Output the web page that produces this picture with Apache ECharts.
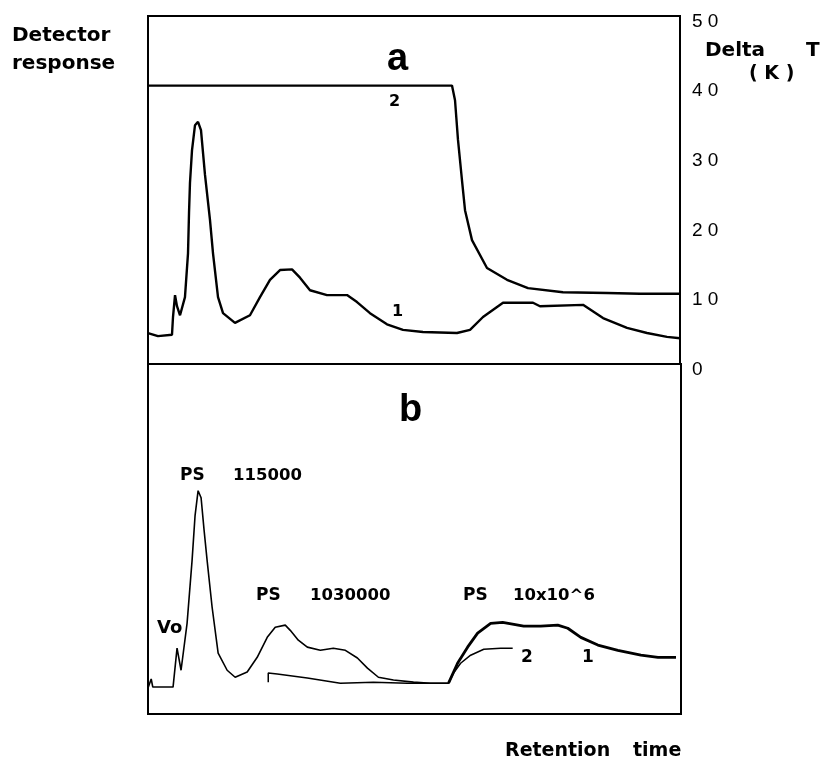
<!DOCTYPE html>
<html>
<head>
<meta charset="utf-8">
<style>
  html, body { margin: 0; padding: 0; background: #fff; }
  #chart { width: 822px; height: 759px; }
</style>
<script src="https://cdn.jsdelivr.net/npm/echarts@6/dist/echarts.min.js"></script>
</head>
<body>
<div id="chart"></div>
<script>
// ---------- DATA ----------
// Retention time in arbitrary units (0..100 across the plot)
// Panel a, curve 1: detector response (drawn on the same 0..50 scale)
const timeA1 = [0, 1.88, 4.51, 4.70, 5.08, 5.45, 6.02, 6.95, 7.52, 7.71, 7.89, 8.27, 8.83, 9.40, 9.96, 10.71, 11.65, 12.22, 13.16, 14.10, 16.35, 19.17, 21.05, 22.93, 24.81, 27.07, 28.57, 30.45, 33.65, 37.41, 39.29, 41.73, 44.92, 47.93, 51.69, 58.08, 60.53, 62.97, 66.73, 72.37, 73.68, 81.77, 85.53, 90.04, 93.80, 97.56, 100];
const respA1 = [4.45, 4.0, 4.2, 6.75, 9.9, 8.3, 7.0, 9.6, 15.9, 21.7, 26.0, 30.7, 34.3, 34.8, 33.6, 27.2, 20.7, 15.9, 9.6, 7.3, 5.9, 7.0, 9.6, 12.1, 13.5, 13.6, 12.4, 10.6, 9.9, 9.9, 8.9, 7.3, 5.7, 4.9, 4.6, 4.45, 4.9, 6.75, 8.8, 8.8, 8.3, 8.5, 6.6, 5.2, 4.45, 3.9, 3.7];

// Panel a, curve 2: Delta T (K)
const timeA2 = [0, 57.14, 57.71, 58.27, 59.02, 59.59, 60.90, 63.72, 67.48, 71.43, 78.0, 86.28, 92.48, 100];
const deltaT = [40, 40, 37.9, 32.2, 26.4, 22.1, 17.8, 13.8, 12.1, 10.9, 10.3, 10.2, 10.1, 10.1];

// Panel b, curve 1: detector response (relative units 0..100)
const timeB1 = [0, 0.6, 0.9, 4.70, 5.45, 6.20, 7.33, 8.27, 8.83, 9.40, 9.96, 10.53, 11.09, 12.03, 13.16, 14.85, 16.35, 18.61, 20.49, 22.37, 23.87, 25.75, 26.69, 28.20, 29.89, 32.33, 34.77, 37.03, 39.29, 41.17, 43.23, 46.05, 49.81, 53.01, 56.39, 58.08, 59.96, 61.84, 64.29, 66.54, 70.49, 73.68, 76.88, 78.76, 81.20, 84.40, 88.16, 92.48, 95.68, 99.06];
const respB1 = [7.4, 10.0, 7.7, 7.7, 18.8, 12.5, 25.9, 43.9, 56.7, 63.8, 61.8, 52.4, 43.9, 30.5, 17.4, 12.5, 10.5, 12.0, 16.2, 21.9, 24.8, 25.4, 23.9, 21.1, 19.1, 18.2, 18.8, 18.2, 16.0, 13.1, 10.5, 9.7, 9.1, 8.8, 8.8, 14.5, 19.1, 23.1, 25.9, 26.2, 25.1, 25.1, 25.4, 24.5, 21.9, 19.7, 18.2, 16.8, 16.2, 16.2];

// Panel b, curve 2
const timeB2 = [22.56, 22.56, 24.25, 29.89, 36.09, 42.29, 48.68, 56.39, 57.33, 58.65, 60.53, 63.0, 66.17, 68.42];
const respB2 = [9.1, 11.7, 11.4, 10.3, 8.8, 9.1, 8.8, 8.8, 11.7, 14.5, 16.8, 18.5, 18.8, 18.8];

// Right-axis tick labels (Delta T, K)
const deltaTTicks = ['0', '1 0', '2 0', '3 0', '4 0', '5 0'];

// ---------- CHART ----------
const zip = (xs, ys) => xs.map((x, i) => [x, ys[i]]);
const b1 = zip(timeB1, respB1);
const splitT = 56.39;

const chart = echarts.init(document.getElementById('chart'), null, { renderer: 'canvas' });
const fam = '"DejaVu Sans", "Liberation Sans", sans-serif';
const txt = (x, y, text, size, fontFamily) => ({
  type: 'text', x: x, y: y, z: 100,
  style: { text: text, fontSize: size, fontWeight: 'bold', fontFamily: fontFamily || fam, fill: '#000', align: 'left', verticalAlign: 'middle' }
});

chart.setOption({
  animation: false,
  backgroundColor: '#fff',
  grid: [
    { left: 148, top: 16, width: 532, height: 348, show: true, borderColor: '#000', borderWidth: 2, backgroundColor: 'transparent' },
    { left: 148, top: 364, width: 533, height: 350, show: true, borderColor: '#000', borderWidth: 2, backgroundColor: 'transparent' }
  ],
  xAxis: [
    { gridIndex: 0, type: 'value', min: 0, max: 100, show: false },
    { gridIndex: 1, type: 'value', min: 0, max: 100, show: false }
  ],
  yAxis: [
    { gridIndex: 0, type: 'value', position: 'right', min: 0, max: 50, interval: 10,
      axisLine: { show: true, lineStyle: { color: '#000', width: 2 } },
      axisTick: { show: false }, splitLine: { show: false },
      axisLabel: { margin: 12, color: '#000', fontSize: 19, fontFamily: '"Liberation Sans", Arial, sans-serif',
        verticalAlign: 'top', padding: [-4, 0, 0, 0],
        formatter: (v) => deltaTTicks[Math.round(v / 10)] } },
    { gridIndex: 1, type: 'value', min: 0, max: 100, show: false }
  ],
  series: [
    { type: 'line', xAxisIndex: 0, yAxisIndex: 0, data: zip(timeA1, respA1), showSymbol: false,
      lineStyle: { color: '#000', width: 2.4 } },
    { type: 'line', xAxisIndex: 0, yAxisIndex: 0, data: zip(timeA2, deltaT), showSymbol: false,
      lineStyle: { color: '#000', width: 2.4 } },
    { type: 'line', xAxisIndex: 1, yAxisIndex: 1, data: b1.filter(p => p[0] <= splitT), showSymbol: false,
      lineStyle: { color: '#000', width: 1.6 } },
    { type: 'line', xAxisIndex: 1, yAxisIndex: 1, data: b1.filter(p => p[0] >= splitT), showSymbol: false,
      lineStyle: { color: '#000', width: 2.8 } },
    { type: 'line', xAxisIndex: 1, yAxisIndex: 1, data: zip(timeB2, respB2), showSymbol: false,
      lineStyle: { color: '#000', width: 1.5 } }
  ],
  graphic: [
    txt(12, 36, 'Detector', 20),
    txt(12, 64, 'response', 20),
    txt(705, 51, 'Delta', 20),
    txt(806, 51, 'T', 20),
    txt(749, 74, '( K )', 19),
    txt(387, 60, 'a', 38, '"Liberation Sans", Arial, sans-serif'),
    txt(389, 102, '2', 16),
    txt(392, 312, '1', 16),
    txt(399, 411, 'b', 38, '"Liberation Sans", Arial, sans-serif'),
    txt(180, 476, 'PS', 17),
    txt(233, 476, '115000', 16.5),
    txt(157, 628, 'Vo', 18),
    txt(256, 596, 'PS', 17),
    txt(310, 596, '1030000', 16.5),
    txt(463, 596, 'PS', 17),
    txt(513, 596, '10x10^6', 16.5),
    txt(521, 658, '2', 17),
    txt(582, 658, '1', 17),
    txt(505, 751, 'Retention', 19),
    txt(633, 751, 'time', 19)
  ]
});
</script>
</body>
</html>
